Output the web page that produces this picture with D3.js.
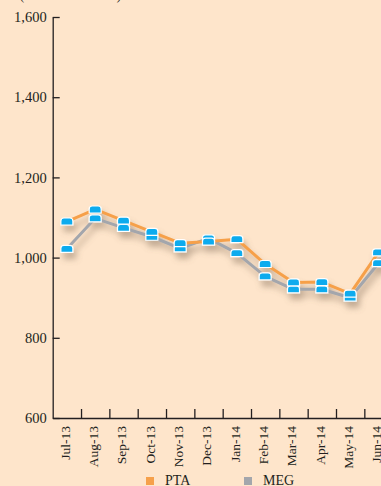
<!DOCTYPE html>
<html>
<head>
<meta charset="utf-8">
<script src="https://cdn.jsdelivr.net/npm/d3@7"></script>
<style>
  html, body { margin: 0; padding: 0; background: #fee5cb; overflow: hidden; }
  svg { display: block; }
  text { font-family: "Liberation Serif", "DejaVu Serif", serif; fill: #231f20; }
</style>
</head>
<body>
<svg id="chart" width="381" height="486"></svg>
<script>
// Monthly prices, July 2013 – June 2014
const months = ["Jul-13", "Aug-13", "Sep-13", "Oct-13", "Nov-13", "Dec-13",
                "Jan-14", "Feb-14", "Mar-14", "Apr-14", "May-14", "Jun-14"];
const ptaValues = [1090, 1120, 1092, 1064, 1036, 1040, 1046, 984, 938, 939, 910, 1013];
const megValues = [1022, 1098, 1074, 1052, 1023, 1048, 1011, 953, 921, 921, 900, 986];
const yTicks = [600, 800, 1000, 1200, 1400, 1600];
const seriesNames = ["PTA", "MEG"];
const seriesColors = ["#f6a04a", "#a3a6ac"];

const svg = d3.select("#chart");
const x0 = 52.7, bandW = 28.33, yTop = 17, yBottom = 418;

const x = d3.scaleBand().domain(months).range([x0, x0 + bandW * months.length]).paddingInner(0).paddingOuter(0);
const xIdx = d3.scaleLinear().domain([0, months.length]).range([x0, x0 + bandW * months.length]);
const y = d3.scaleLinear().domain([600, 1600]).range([yBottom, yTop]);

// Unit note above the plot
svg.append("text").attr("x", 20).attr("y", -0.5).attr("font-size", 12.5).text("(In US dollar terms)");

// Drop shadow under the series
const defs = svg.append("defs");
const f = defs.append("filter").attr("id", "shadow").attr("x", "-20%").attr("y", "-20%").attr("width", "140%").attr("height", "160%");
f.append("feGaussianBlur").attr("in", "SourceAlpha").attr("stdDeviation", 3).attr("result", "blur");
f.append("feOffset").attr("in", "blur").attr("dx", 3).attr("dy", 6).attr("result", "off");
f.append("feFlood").attr("flood-color", "#7a6450").attr("flood-opacity", 0.45);
f.append("feComposite").attr("in2", "off").attr("operator", "in").attr("result", "sh");
const fm = f.append("feMerge");
fm.append("feMergeNode").attr("in", "sh");
fm.append("feMergeNode").attr("in", "SourceGraphic");

// Y axis: ticks pointing inward
const yAxis = svg.append("g").attr("transform", `translate(${x0},0)`)
  .call(d3.axisLeft(y).tickValues(yTicks).tickSizeInner(-7).tickSizeOuter(0).tickPadding(6)
    .tickFormat(d3.format(",")));
yAxis.select(".domain").attr("stroke", "#231f20").attr("stroke-width", 1.3);
yAxis.selectAll(".tick line").attr("stroke", "#231f20").attr("stroke-width", 1.3);
yAxis.selectAll(".tick text").attr("font-size", 14.5).attr("font-family", "Liberation Serif, serif").attr("fill", "#231f20");

// X axis: ticks at month boundaries
const xAxis = svg.append("g").attr("transform", `translate(0,${yBottom})`)
  .call(d3.axisBottom(xIdx).tickValues(d3.range(1, months.length)).tickSizeInner(-9).tickSizeOuter(0).tickFormat(""));
xAxis.select(".domain").attr("stroke", "#231f20").attr("stroke-width", 1.3);
xAxis.selectAll(".tick line").attr("stroke", "#231f20").attr("stroke-width", 1.3);

// Month labels, rotated
svg.append("g").selectAll("text").data(months).join("text")
  .attr("transform", d => `translate(${x(d) + x.bandwidth() / 2 - 2},${yBottom + 8}) rotate(-90)`)
  .attr("text-anchor", "end")
  .attr("dy", "0.35em")
  .attr("font-size", 13.5)
  .text(d => d);

// Series
const series = [megValues, ptaValues];
const colors = [seriesColors[1], seriesColors[0]];
const line = d3.line().x((d, i) => x(months[i]) + x.bandwidth() / 2).y(d => y(d));

const plot = svg.append("g").attr("filter", "url(#shadow)");
series.forEach((vals, k) => {
  plot.append("path").datum(vals)
    .attr("d", line)
    .attr("fill", "none")
    .attr("stroke", colors[k])
    .attr("stroke-width", 3)
    .attr("stroke-linejoin", "round");
});

// Markers: small rounded-top caps
const mw = 12, mh = 7, r = 3;
function cap(cx, cy) {
  const l = cx - mw / 2, t = cy - mh / 2, rr = l + mw, b = t + mh;
  return `M${l},${b}L${l},${t + r}Q${l},${t} ${l + r},${t}L${rr - r},${t}Q${rr},${t} ${rr},${t + r}L${rr},${b}Z`;
}
[megValues, ptaValues].forEach(vals => {
  plot.append("g").selectAll("path").data(vals).join("path")
    .attr("d", (d, i) => cap(x(months[i]) + x.bandwidth() / 2, y(d)))
    .attr("fill", "#0cabee")
    .attr("stroke", "#ffffff")
    .attr("stroke-width", 1.2);
});

// Legend
const legend = svg.append("g");
const legendX = [146, 244];
seriesNames.forEach((name, i) => {
  legend.append("rect").attr("x", legendX[i]).attr("y", 477).attr("width", 8).attr("height", 8).attr("fill", seriesColors[i]);
  legend.append("text").attr("x", legendX[i] + 19).attr("y", 485).attr("font-size", 14).text(name);
});
</script>
</body>
</html>
